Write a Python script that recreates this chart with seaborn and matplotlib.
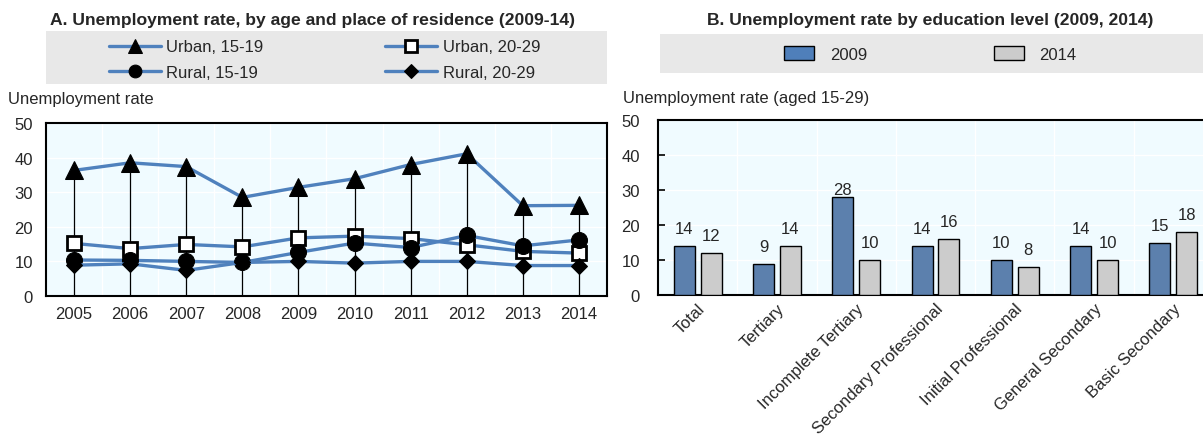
import numpy as np
import pandas as pd
import matplotlib
matplotlib.use("Agg")
import matplotlib.pyplot as plt
import seaborn as sns
from matplotlib.patches import Rectangle
from matplotlib.ticker import FixedLocator
from matplotlib.patches import Patch

# ---------------- data ----------------
years = [2005, 2006, 2007, 2008, 2009, 2010, 2011, 2012, 2013, 2014]
urban_15_19 = [36.3, 38.5, 37.4, 28.5, 31.4, 33.9, 38.0, 41.1, 26.1, 26.2]
urban_20_29 = [15.2, 13.7, 14.9, 14.2, 16.8, 17.3, 16.6, 14.8, 12.9, 12.4]
rural_15_19 = [10.4, 10.3, 10.0, 9.7, 12.6, 15.3, 14.0, 17.5, 14.5, 16.2]
rural_20_29 = [8.9, 9.3, 7.4, 9.7, 10.0, 9.5, 10.0, 10.0, 8.8, 8.8]
series_names = ["Urban, 15-19", "Urban, 20-29", "Rural, 15-19", "Rural, 20-29"]

levels = ["Total", "Tertiary", "Incomplete Tertiary", "Secondary Professional",
          "Initial Professional", "General Secondary", "Basic Secondary"]
rate_2009 = [14, 9, 28, 14, 10, 14, 15]
rate_2014 = [12, 14, 10, 16, 8, 10, 18]
bar_years = ["2009", "2014"]

# ---------------- style ----------------
sns.set_style("white")
FAM = ["Liberation Sans Narrow", "Liberation Sans", "DejaVu Sans"]
plt.rcParams["font.family"] = FAM
FS = 12
TFS = 12.6
LINE = "#4F81BD"
BLUE = "#4F7FBA"
GRAY = "#CCCCCC"
AXBG = "#F0FBFF"
LEGBG = "#E8E8E8"

W, H = 1203, 435
fig = plt.figure(figsize=(W / 100, H / 100), dpi=100)

def fx(px):
    return px / W

def fy(py):
    return 1 - py / H

# gray legend backgrounds
fig.add_artist(Rectangle((fx(46), fy(85)), fx(607 - 46), 53 / H, transform=fig.transFigure,
                         facecolor=LEGBG, edgecolor="none", zorder=0))
fig.add_artist(Rectangle((fx(660), fy(74)), 1 - fx(660), 39 / H, transform=fig.transFigure,
                         facecolor=LEGBG, edgecolor="none", zorder=0))

# ---------------- Panel A ----------------
axA = fig.add_axes([fx(46), fy(297), fx(607 - 46), (297 - 124) / H])
axA.set_facecolor(AXBG)
axA.vlines(years, 0, urban_15_19, color="black", lw=0.9, zorder=2)
marker_styles = [
    dict(marker="^", markersize=12.5, markerfacecolor="black", markeredgecolor="black"),
    dict(marker="s", markersize=10.5, markerfacecolor="white", markeredgecolor="black", markeredgewidth=2),
    dict(marker="o", markersize=11.5, markerfacecolor="black", markeredgecolor="black"),
    dict(marker="D", markersize=8.5, markerfacecolor="black", markeredgecolor="black"),
]
for vals, name, ms in zip([urban_15_19, urban_20_29, rural_15_19, rural_20_29], series_names, marker_styles):
    sns.lineplot(x=years, y=vals, ax=axA, color=LINE, lw=2.4, label=name, zorder=3, **ms)
handles, labels = axA.get_legend_handles_labels()
axA.get_legend().remove()
axA.set_xlim(2004.5, 2014.5)
axA.set_ylim(0, 50)
axA.set_xticks(years)
axA.set_xticklabels([str(y) for y in years])
axA.set_yticks(range(0, 51, 10))
axA.xaxis.set_minor_locator(FixedLocator([y + 0.5 for y in years[:-1]]))
axA.tick_params(axis="x", which="major", length=0, pad=7, labelsize=FS)
axA.tick_params(axis="x", which="minor", direction="in", length=5, width=1.2, color="black")
axA.tick_params(axis="y", which="major", length=0, pad=9.5, labelsize=FS)
axA.grid(True, which="major", axis="y", color="white", lw=1)
axA.grid(True, which="minor", axis="x", color="white", lw=1)
axA.set_axisbelow(True)
axA.set_xlabel("")
axA.set_ylabel("")
for s in axA.spines.values():
    s.set_visible(True)
    s.set_color("black")
    s.set_linewidth(1.5)

order = [0, 2, 1, 3]
fig.legend([handles[i] for i in order], [labels[i] for i in order], ncol=2,
           loc="center left", bbox_to_anchor=(fx(109), fy(60.5)), frameon=False,
           fontsize=FS, handlelength=3.1, handletextpad=0.35, columnspacing=7.3,
           labelspacing=0.6, borderpad=0, borderaxespad=0, markerscale=0.8)

fig.text(fx(313), fy(20), "A. Unemployment rate, by age and place of residence (2009-14)",
         ha="center", va="center", fontsize=TFS, fontweight="bold")
fig.text(fx(8), fy(100), "Unemployment rate", ha="left", va="center", fontsize=FS)

# ---------------- Panel B ----------------
axB = fig.add_axes([fx(658), fy(296), fx(1213 - 658), (296 - 121) / H])
axB.set_facecolor(AXBG)
df = pd.DataFrame({
    "level": levels * 2,
    "rate": rate_2009 + rate_2014,
    "year": [bar_years[0]] * len(levels) + [bar_years[1]] * len(levels),
})
sns.barplot(data=df, x="level", y="rate", hue="year", palette=[BLUE, GRAY], width=0.68, gap=0.22,
            edgecolor="black", linewidth=1.0, ax=axB, legend=False, zorder=3)
pads_2009 = [7, 7, -0.3, 7, 7, 7, 7]
for i, cont in enumerate(axB.containers[:2]):
    vals = rate_2009 if i == 0 else rate_2014
    for j, bar in enumerate(cont):
        pad = pads_2009[j] if i == 0 else 7
        axB.annotate(f"{vals[j]:.0f}", (bar.get_x() + bar.get_width() / 2, bar.get_height()),
                     xytext=(0, pad), textcoords="offset points", ha="center", va="bottom",
                     fontsize=FS)
axB.set_xlim(-0.5, len(levels) - 0.5)
axB.set_ylim(0, 50)
axB.set_yticks(range(0, 51, 10))
axB.xaxis.set_minor_locator(FixedLocator([i + 0.5 for i in range(len(levels) - 1)]))
axB.set_xticks(range(len(levels)))
axB.set_xticklabels(levels, rotation=45, ha="right", va="top", rotation_mode="anchor")
axB.tick_params(axis="x", which="major", length=0, pad=4, labelsize=FS)
axB.tick_params(axis="x", which="minor", direction="in", length=5, width=1.2, color="black")
axB.tick_params(axis="y", which="major", direction="in", length=5, width=1.2, color="black",
                pad=13, labelsize=FS, left=True)
axB.grid(True, which="major", axis="y", color="white", lw=1)
axB.grid(True, which="minor", axis="x", color="white", lw=1)
axB.set_axisbelow(True)
axB.set_xlabel("")
axB.set_ylabel("")
for s in axB.spines.values():
    s.set_visible(True)
    s.set_color("black")
    s.set_linewidth(1.5)

leg_handles = [Patch(facecolor=BLUE, edgecolor="black", lw=1.0),
               Patch(facecolor=GRAY, edgecolor="black", lw=1.0)]
fig.legend(leg_handles, bar_years, ncol=2, loc="center left", bbox_to_anchor=(fx(784), fy(55)),
           frameon=False, fontsize=FS, handlelength=1.8, handleheight=0.9, handletextpad=0.95,
           columnspacing=7.6, borderpad=0, borderaxespad=0)

fig.text(fx(930), fy(20), "B. Unemployment rate by education level (2009, 2014)",
         ha="center", va="center", fontsize=TFS, fontweight="bold")
fig.text(fx(623), fy(98), "Unemployment rate (aged 15-29)", ha="left", va="center", fontsize=FS)

fig.savefig("out.png", dpi=100)
